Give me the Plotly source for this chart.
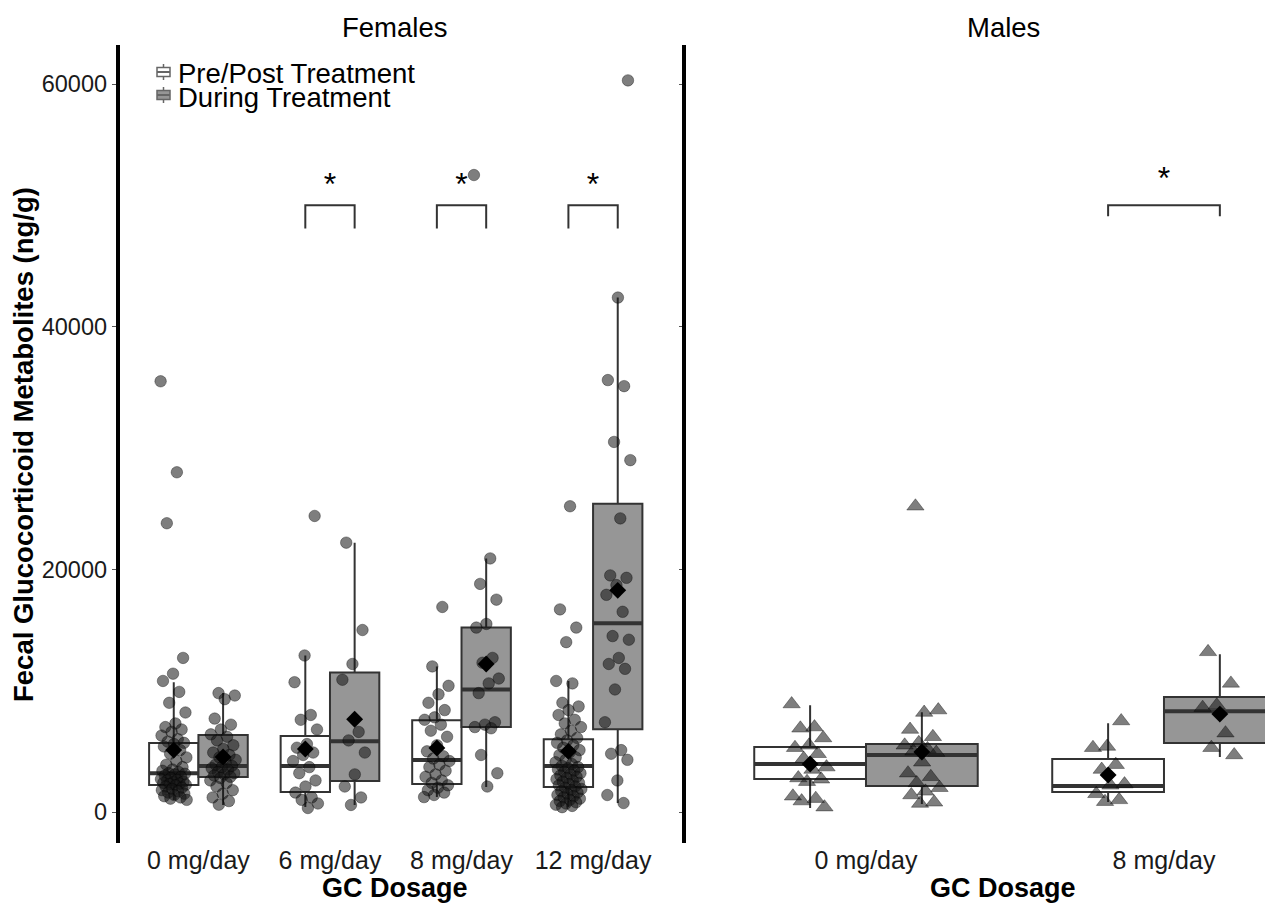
import plotly.graph_objects as go

# ---------------- data ----------------
female_cats = ["0 mg/day", "6 mg/day", "8 mg/day", "12 mg/day"]
male_cats = ["0 mg/day", "8 mg/day"]
legend_labels = ["Pre/Post Treatment", "During Treatment"]
y_ticks = [0, 20000, 40000, 60000]

# raw observations (ng/g)
f0_pre = [35500, 28000, 23800, 12700, 11400, 10800, 9900, 9000, 8200, 7300, 7000, 6800, 6600, 6300,
          6000, 5800, 5700, 5600, 5400, 5100, 4800, 4500, 4200, 3900, 3700, 3500, 3400, 3300, 3200,
          3150, 3100, 3000, 2900, 2800, 2700, 2650, 2600, 2500, 2450, 2400, 2350, 2300, 2250, 2200,
          2100, 2000, 1900, 1800, 1700, 1600, 1500, 1400, 1300, 1200, 1100, 1000]
f0_dur = [9800, 9600, 9300, 7700, 7200, 6800, 6400, 6200, 5900, 5500, 5200, 4900, 4700, 4500, 4300,
          4100, 3900, 3800, 3700, 3600, 3500, 3300, 3200, 3100, 3000, 2900, 2800, 2600, 2400, 2100,
          1800, 1500, 1200, 900, 600]
f6_pre = [24400, 12900, 10700, 8000, 7600, 6800, 5600, 5300, 4900, 4700, 4200, 3700, 3200, 2600,
          2100, 1600, 1200, 1000, 700, 330]
f6_dur = [22200, 15000, 12200, 10900, 6600, 5900, 4900, 3100, 2100, 1200, 580]
f8_pre = [16900, 12000, 10400, 9700, 9000, 8400, 7800, 7600, 7200, 6700, 6200, 5500, 5000, 4600,
          4400, 4200, 3900, 3700, 3400, 3100, 2900, 2600, 2400, 2200, 2000, 1800, 1600, 1400, 1230]
f8_dur = [52500, 20900, 18800, 17500, 15500, 15200, 12700, 12300, 11000, 10600, 9800, 7400, 7200,
          7000, 6900, 4700, 3200, 2100]
f12_pre = [25200, 16700, 15200, 14000, 10800, 10600, 9000, 8700, 8400, 8000, 7600, 7300, 7000, 6700,
           6400, 6100, 5900, 5700, 5500, 5300, 5100, 4900, 4700, 4500, 4300, 4100, 3950, 3800, 3700,
           3600, 3500, 3400, 3300, 3200, 3100, 3000, 2900, 2800, 2700, 2600, 2500, 2400, 2300, 2200,
           2100, 2000, 1900, 1800, 1700, 1600, 1500, 1400, 1300, 1200, 1100, 1000, 900, 800, 700,
           600, 500, 400]
f12_dur = [60300, 42400, 35600, 35100, 30500, 29000, 24200, 19500, 19300, 18700, 17900, 16500,
           14500, 14200, 12700, 12200, 11800, 10100, 7400, 5100, 4800, 4300, 2600, 1400, 740]
m0_pre = [8900, 7000, 6900, 6100, 5500, 5300, 4800, 4400, 3700, 3500, 2800, 2700, 2500, 1300, 1100,
          900, 400]
m0_dur = [25200, 8400, 8200, 6800, 6200, 5700, 5500, 5200, 5000, 4900, 4100, 3200, 2900, 2400,
          2000, 1700, 1400, 800, 700]
m8_pre = [7500, 5400, 5300, 3900, 3500, 2300, 2200, 1500, 1000, 850]
m8_dur = [13200, 10600, 8800, 8600, 6500, 5300, 4700]

# box summary statistics
f_pre_q1 = [2220, 1650, 2300, 2060]
f_pre_med = [3200, 3790, 4280, 3790]
f_pre_q3 = [5680, 6260, 7570, 6000]
f_pre_lo = [990, 410, 1230, 410]
f_pre_hi = [10700, 12900, 12000, 10800]
f_pre_mean = [5100, 5190, 5270, 5000]

f_dur_q1 = [2880, 2550, 7000, 6830]
f_dur_med = [3790, 5840, 10100, 15550]
f_dur_q3 = [6340, 11500, 15200, 25400]
f_dur_lo = [580, 580, 2060, 740]
f_dur_hi = [9800, 22200, 20900, 42400]
f_dur_mean = [4530, 7650, 12200, 18270]

m_pre_q1 = [2720, 1650]
m_pre_med = [3950, 2140]
m_pre_q3 = [5350, 4360]
m_pre_lo = [330, 820]
m_pre_hi = [8800, 7320]
m_pre_mean = [3950, 3050]

m_dur_q1 = [2140, 5680]
m_dur_med = [4690, 8310]
m_dur_q3 = [5600, 9470]
m_dur_lo = [660, 4530]
m_dur_hi = [8230, 13000]
m_dur_mean = [4940, 8070]

# significance
female_sig = ["6 mg/day", "8 mg/day", "12 mg/day"]
male_sig = ["8 mg/day"]
sig_y = 50000

# ---------------- styling ----------------
W, H = 1265, 905
FONT = "Liberation Sans, Arial, sans-serif"
BOX_W = 0.375
DODGE = 0.1875
WHITE = "white"
GREY = "rgb(150,150,150)"
EDGE = "#333333"

fig = go.Figure()


def px_x(p):
    return p / W


def px_y(p):
    return 1 - p / H


def jitter(n, w, phase):
    return [w * ((((i + phase) * 0.6180339887) % 1) * 2 - 1) for i in range(n)]


def add_panel(xa, ya, cats, pre_stats, dur_stats, pre_pts, dur_pts, symbol, msize, jw):
    centers = list(range(1, len(cats) + 1))
    for stats, sign, fill in ((pre_stats, -1, WHITE), (dur_stats, 1, GREY)):
        q1, med, q3, lo, hi, mean = stats
        xs = [c + sign * DODGE for c in centers]
        fig.add_trace(go.Box(x=xs, q1=q1, median=med, q3=q3, lowerfence=lo, upperfence=hi,
                             width=BOX_W, fillcolor=fill, line=dict(color=EDGE, width=2),
                             whiskerwidth=0, boxpoints=False, xaxis=xa, yaxis=ya,
                             showlegend=False, hoverinfo="skip"))
        mx, my = [], []
        for x, m in zip(xs, med):
            mx += [x - BOX_W / 2, x + BOX_W / 2, None]
            my += [m, m, None]
        fig.add_trace(go.Scatter(x=mx, y=my, mode="lines", line=dict(color=EDGE, width=4),
                                 xaxis=xa, yaxis=ya, showlegend=False, hoverinfo="skip"))
    for pts_list, sign in ((pre_pts, -1), (dur_pts, 1)):
        for k, (c, pts) in enumerate(zip(centers, pts_list)):
            offs = jitter(len(pts), jw, k * 3 + (0 if sign < 0 else 7))
            fig.add_trace(go.Scatter(
                x=[c + sign * DODGE + o for o in offs], y=pts, mode="markers",
                marker=dict(symbol=symbol, size=msize, color="rgba(20,20,20,0.55)",
                            line=dict(color="rgba(0,0,0,0.35)", width=1)),
                xaxis=xa, yaxis=ya, showlegend=False, hoverinfo="skip"))
    for stats, sign in ((pre_stats, -1), (dur_stats, 1)):
        fig.add_trace(go.Scatter(
            x=[c + sign * DODGE for c in centers], y=stats[5], mode="markers",
            marker=dict(symbol="diamond", size=13, color="black"),
            xaxis=xa, yaxis=ya, showlegend=False, hoverinfo="skip"))


add_panel("x", "y", female_cats,
          (f_pre_q1, f_pre_med, f_pre_q3, f_pre_lo, f_pre_hi, f_pre_mean),
          (f_dur_q1, f_dur_med, f_dur_q3, f_dur_lo, f_dur_hi, f_dur_mean),
          [f0_pre, f6_pre, f8_pre, f12_pre], [f0_dur, f6_dur, f8_dur, f12_dur],
          "circle", 11.5, 0.1)
add_panel("x2", "y2", male_cats,
          (m_pre_q1, m_pre_med, m_pre_q3, m_pre_lo, m_pre_hi, m_pre_mean),
          (m_dur_q1, m_dur_med, m_dur_q3, m_dur_lo, m_dur_hi, m_dur_mean),
          [m0_pre, m8_pre], [m0_dur, m8_dur],
          "triangle-up", 15, 0.062)


def add_sig(xa, ya, cats, sig_cats, tip, star_off):
    for s in sig_cats:
        c = cats.index(s) + 1
        fig.add_trace(go.Scatter(
            x=[c - DODGE, c - DODGE, c + DODGE, c + DODGE],
            y=[sig_y - tip, sig_y, sig_y, sig_y - tip], mode="lines",
            line=dict(color=EDGE, width=2), xaxis=xa, yaxis=ya,
            showlegend=False, hoverinfo="skip"))
        fig.add_trace(go.Scatter(
            x=[c], y=[sig_y + star_off], mode="text", text=["*"],
            textfont=dict(family=FONT, size=32, color="black"), xaxis=xa, yaxis=ya,
            showlegend=False, hoverinfo="skip"))


add_sig("x", "y", female_cats, female_sig, 1900, 1500)
add_sig("x2", "y2", male_cats, male_sig, 900, 2000)

y_range = [-2555, 63216]
y_dom = [62 / H, 860 / H]
xtickfont = dict(family=FONT, size=25, color="#1a1a1a")
ytickfont = dict(family=FONT, size=23.5, color="#1a1a1a")

fig.update_layout(
    width=W, height=H, margin=dict(l=0, r=0, t=0, b=0),
    paper_bgcolor="white", plot_bgcolor="white", boxmode="overlay",
    showlegend=False,
    xaxis=dict(domain=[px_x(119.5), px_x(672)], range=[0.4, 4.6],
               tickvals=list(range(1, len(female_cats) + 1)), ticktext=female_cats,
               tickfont=xtickfont, showgrid=False, zeroline=False, showline=False,
               ticks="", anchor="y"),
    yaxis=dict(domain=y_dom, range=y_range, tickvals=y_ticks,
               ticktext=[str(v) for v in y_ticks], tickfont=ytickfont,
               showgrid=False, zeroline=False, showline=True, linecolor="black",
               linewidth=3.5, ticks="outside", ticklen=4, tickcolor="#555",
               ticklabelstandoff=0, anchor="x"),
    xaxis2=dict(domain=[px_x(686), 1], range=[0.396, 2.339],
                tickvals=list(range(1, len(male_cats) + 1)), ticktext=male_cats,
                tickfont=xtickfont, showgrid=False, zeroline=False, showline=False,
                ticks="", anchor="y2"),
    yaxis2=dict(domain=y_dom, range=y_range, tickvals=y_ticks, showticklabels=False,
                showgrid=False, zeroline=False, showline=True, linecolor="black",
                linewidth=3.5, ticks="outside", ticklen=3, tickcolor="#555",
                anchor="x2"),
)

ann = []
ann.append(dict(text="Females", x=px_x(395), y=px_y(28), xref="paper", yref="paper",
                showarrow=False, font=dict(family=FONT, size=27.5, color="black"),
                xanchor="center", yanchor="middle"))
ann.append(dict(text="Males", x=px_x(1003), y=px_y(28), xref="paper", yref="paper",
                showarrow=False, font=dict(family=FONT, size=27.5, color="black"),
                xanchor="center", yanchor="middle"))
for xc in (395, 1003):
    ann.append(dict(text="<b>GC Dosage</b>", x=px_x(xc), y=px_y(888), xref="paper",
                    yref="paper", showarrow=False,
                    font=dict(family=FONT, size=27, color="black"),
                    xanchor="center", yanchor="middle"))
ann.append(dict(text="<b>Fecal Glucocorticoid Metabolites (ng/g)</b>", x=px_x(24),
                y=px_y(445), xref="paper", yref="paper", showarrow=False, textangle=-90,
                font=dict(family=FONT, size=27.5, color="black"),
                xanchor="center", yanchor="middle"))
for lab, yc in zip(legend_labels, (74, 97)):
    ann.append(dict(text=lab, x=px_x(176), y=px_y(yc), xref="paper", yref="paper",
                    showarrow=False, font=dict(family=FONT, size=27.5, color="black"),
                    xanchor="left", yanchor="middle"))

shapes = []
for fill, yc in zip((WHITE, GREY), (72, 95)):
    shapes.append(dict(type="line", xref="paper", yref="paper", x0=px_x(163.5), x1=px_x(163.5),
                       y0=px_y(yc - 8), y1=px_y(yc + 8), line=dict(color="#666", width=1.5)))
    shapes.append(dict(type="rect", xref="paper", yref="paper", x0=px_x(157), x1=px_x(170),
                       y0=px_y(yc - 4.5), y1=px_y(yc + 4.5), fillcolor=fill,
                       line=dict(color="#666", width=1.5)))
    shapes.append(dict(type="line", xref="paper", yref="paper", x0=px_x(157), x1=px_x(170),
                       y0=px_y(yc), y1=px_y(yc), line=dict(color="#666", width=2)))

fig.update_layout(annotations=ann, shapes=shapes)

fig.write_html("out.html", config={"displayModeBar": False},
               post_script="document.body.style.margin='0';document.body.style.overflow='hidden';")
